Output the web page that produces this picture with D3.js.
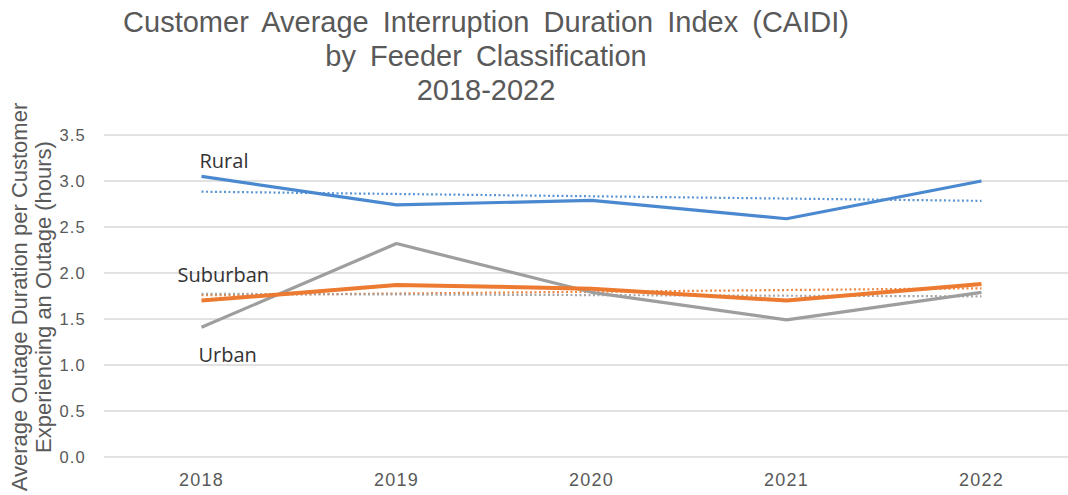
<!DOCTYPE html>
<html>
<head>
<meta charset="utf-8">
<script src="https://cdn.jsdelivr.net/npm/d3@7"></script>
<style>
  html, body { margin: 0; padding: 0; background: #fff; }
  svg { display: block; }
</style>
</head>
<body>
<svg id="chart" width="1068" height="495"></svg>
<script>
// CAIDI by feeder classification, 2018-2022 (hours)
const years = ["2018", "2019", "2020", "2021", "2022"];
const rural = [3.05, 2.74, 2.79, 2.59, 3.00];
const suburban = [1.70, 1.87, 1.83, 1.70, 1.88];
const urban = [1.41, 2.32, 1.79, 1.49, 1.79];
const yTicks = [0, 0.5, 1.0, 1.5, 2.0, 2.5, 3.0, 3.5];
const titleLines = [
  "Customer Average Interruption Duration Index (CAIDI)",
  "by Feeder Classification",
  "2018-2022"
];
const yTitleLines = [
  "Average Outage Duration per Customer",
  "Experiencing an Outage (hours)"
];

const series = [
  { name: "Rural", values: rural, color: "#4a89cf", width: 3.2, label: { dx: -2, dy: -8 } },
  { name: "Suburban", values: suburban, color: "#ec7a30", width: 4, label: { dx: -24, dy: -19 } },
  { name: "Urban", values: urban, color: "#9e9e9e", width: 3.2, label: { dx: -3, dy: 35 } }
];

const FONT = "Liberation Sans, Arial, sans-serif";
const svg = d3.select("#chart");
const margin = { left: 104, right: 1079, top: 135, bottom: 457 };

const x = d3.scaleBand().domain(years).range([margin.left, margin.right]);
const xc = d => x(d) + x.bandwidth() / 2;
const y = d3.scaleLinear().domain([0, 3.5]).range([margin.bottom, margin.top]);

// Title
svg.append("g").selectAll("text")
  .data(titleLines).join("text")
  .attr("x", 486)
  .attr("y", (d, i) => 32 + i * 34)
  .attr("text-anchor", "middle")
  .attr("font-family", FONT)
  .attr("font-size", 29)
  .attr("word-spacing", 6)
  .attr("fill", "#595959")
  .text(d => d);

// Gridlines
svg.append("g").selectAll("line")
  .data(yTicks).join("line")
  .attr("x1", margin.left).attr("x2", 1068)
  .attr("y1", d => y(d)).attr("y2", d => y(d))
  .attr("stroke", "#d9d9d9").attr("stroke-width", 1.5);

// Y axis tick labels
const yAxis = d3.axisLeft(y).tickValues(yTicks).tickFormat(d3.format(".1f")).tickSize(0).tickPadding(18);
const gy = svg.append("g").attr("transform", `translate(${margin.left},0)`).call(yAxis);
gy.select(".domain").remove();
gy.selectAll("text")
  .attr("font-family", FONT)
  .attr("font-size", 16.5)
  .attr("letter-spacing", 1.2)
  .attr("fill", "#595959");

// X axis labels
const xAxis = d3.axisBottom(x).tickSize(0).tickPadding(16);
const gx = svg.append("g").attr("transform", `translate(0,${margin.bottom})`).call(xAxis);
gx.select(".domain").remove();
gx.selectAll("text")
  .attr("font-family", FONT)
  .attr("font-size", 18)
  .attr("letter-spacing", 1.2)
  .attr("fill", "#595959");

// Y axis title
const yt = svg.append("text")
  .attr("transform", `translate(0,297) rotate(-90)`)
  .attr("text-anchor", "middle")
  .attr("font-family", FONT)
  .attr("font-size", 22).attr("fill", "#595959");
yt.selectAll("tspan").data(yTitleLines).join("tspan")
  .attr("x", 0)
  .attr("y", (d, i) => 27 + i * 24)
  .text(d => d);

// Linear trend lines (least squares)
function trend(values) {
  const xs = values.map((_, i) => i);
  const mx = d3.mean(xs), my = d3.mean(values);
  const slope = d3.sum(xs, (xi, i) => (xi - mx) * (values[i] - my)) / d3.sum(xs, xi => (xi - mx) ** 2);
  return xs.map(xi => my + slope * (xi - mx));
}

const line = d3.line().x((d, i) => xc(years[i])).y(d => y(d));

const gTrend = svg.append("g");
series.forEach(s => {
  gTrend.append("path")
    .attr("d", line(trend(s.values)))
    .attr("fill", "none")
    .attr("stroke", s.color)
    .attr("stroke-width", 2.2)
    .attr("stroke-dasharray", "2,2.5")
    .attr("opacity", 0.9);
});

// Series lines, drawn back to front
const order = [series[2], series[0], series[1]];
order.forEach(s => {
  svg.append("path")
    .attr("d", line(s.values))
    .attr("fill", "none")
    .attr("stroke", s.color)
    .attr("stroke-width", s.width)
    .attr("stroke-linejoin", "round");
});

// Series labels near the first point
series.forEach(s => {
  svg.append("text")
    .attr("x", xc(years[0]) + s.label.dx)
    .attr("y", y(s.values[0]) + s.label.dy)
    .attr("font-family", "Open Sans, Lato, sans-serif")
    .attr("font-size", 20)
    .attr("fill", "#333333")
    .text(s.name);
});
</script>
</body>
</html>
